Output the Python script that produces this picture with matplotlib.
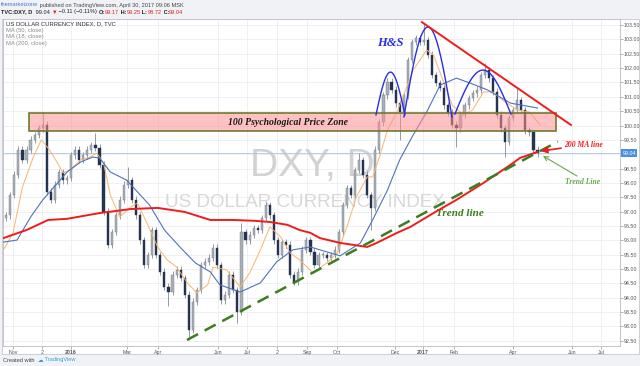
import numpy as np
import matplotlib
matplotlib.use('Agg')
import matplotlib.pyplot as plt
from matplotlib.patches import Rectangle
from matplotlib.transforms import blended_transform_factory

plt.rcParams['font.family'] = ['Liberation Sans', 'DejaVu Sans']

# every 3rd daily session, bar 0 = 2 Nov 2015
bar_idx = np.arange(-8, 389, 3)
closes = [96.78, 96.88, 97.58, 98.28, 99.15, 98.80, 99.15, 99.50, 99.67, 99.91,
          100.02, 97.70, 97.41, 97.93, 98.38, 98.10, 98.17, 98.97, 99.15, 98.80,
          98.97, 99.15, 99.32, 99.22, 98.63, 96.99, 95.84, 96.29, 96.88, 97.41,
          97.93, 98.10, 97.41, 96.88, 96.01, 95.14, 95.49, 96.36, 95.49, 94.90,
          94.38, 94.20, 94.80, 94.97, 94.69, 94.10, 92.88, 93.86, 94.27, 95.14,
          95.25, 95.39, 95.74, 95.14, 93.92, 94.10, 94.80, 94.27, 93.51, 96.29,
          96.01, 96.19, 96.43, 96.36, 96.78, 97.23, 96.88, 96.01, 95.49, 95.94,
          95.84, 94.80, 94.55, 94.90, 95.67, 96.01, 95.60, 95.14, 95.49, 95.49,
          95.39, 95.49, 95.67, 96.29, 97.23, 97.82, 97.58, 98.45, 98.80, 98.28,
          97.58, 97.13, 99.15, 100.12, 101.06, 101.52, 101.24, 100.78, 100.47, 101.06,
          102.28, 102.91, 103.05, 102.91, 102.98, 102.46, 101.76, 101.48, 101.31, 100.71,
          100.44, 100.02, 99.91, 100.37, 100.71, 100.96, 101.13, 101.24, 101.76, 101.93,
          101.65, 101.17, 100.37, 99.91, 99.43, 100.26, 100.54, 100.89, 100.54, 99.84,
          99.77, 99.15, 99.04]
first_open = 96.60
spike_highs = {10: 100.48, 23: 99.75, 31: 98.55, 59: 96.61, 88: 99.05,
               104: 103.57, 119: 102.18, 127: 101.30}
spike_lows = {0: 96.30, 41: 93.70, 46: 92.53, 58: 93.12, 91: 96.36,
              98: 99.50, 112: 99.25, 124: 98.90}

# moving averages (bar, value)
ma200_x = [-7, 10, 26, 40, 64, 87, 107, 127, 146, 163, 179, 190, 203, 212, 220,
           227, 242, 262, 269, 284, 294, 311, 328, 348, 368, 375, 388]
ma200_y = [96.08, 96.36, 96.71, 96.75, 96.95, 97.09, 97.13, 96.99, 96.71, 96.71,
           96.68, 96.64, 96.54, 96.36, 96.26, 96.08, 95.91, 95.77, 95.91, 96.26,
           96.47, 96.95, 97.41, 98.00, 98.63, 98.87, 99.08]
ma50_x = [-7, 3, 13, 22, 33, 40, 50, 59, 64, 72, 84, 101, 112, 124, 135, 146,
          153, 168, 183, 195, 207, 220, 227, 242, 257, 266, 277, 286, 296, 306,
          316, 328, 338, 351, 368, 388]
ma50_y = [95.94, 96.01, 96.81, 97.41, 98.00, 98.38, 98.73, 98.90, 98.87, 98.38,
          98.10, 97.23, 96.36, 95.74, 95.21, 94.90, 94.45, 94.20, 94.52, 95.25,
          95.67, 95.77, 95.67, 95.46, 95.91, 96.71, 97.75, 98.80, 99.67, 100.47,
          101.41, 101.65, 101.48, 101.24, 100.78, 100.61]
ma18_x = [-7, 0, 7, 15, 21, 27, 33, 37, 42, 50, 57, 62, 67, 72, 79, 87, 92, 99,
          107, 114, 121, 129, 136, 144, 148, 158, 168, 175, 183, 190, 198, 205,
          212, 222, 232, 240, 247, 254, 262, 266, 272, 277, 284, 289, 296, 306,
          311, 318, 325, 333, 340, 348, 355, 362, 373, 382, 390]
ma18_y = [95.67, 96.26, 97.86, 98.90, 99.50, 99.15, 98.69, 98.35, 98.45, 98.80,
          98.90, 99.04, 98.69, 97.58, 96.81, 97.16, 97.30, 96.61, 95.77, 95.32,
          95.07, 94.52, 94.17, 94.45, 95.07, 94.97, 94.38, 94.86, 95.67, 96.47,
          96.12, 95.56, 95.32, 94.86, 95.21, 95.56, 96.47, 97.51, 98.21, 98.21,
          99.04, 99.84, 100.47, 101.06, 101.93, 102.63, 102.46, 101.58, 100.71, 100.37,
          100.54, 101.17, 101.17, 100.89, 100.54, 100.47, 100.02]

date_ticks = [0, 21.4, 42.9, 84.3, 107.2, 151.6, 173.1, 195.3, 217.5, 239.6,
              282.5, 303.3, 326.2, 369.8, 413.5, 434.9]
date_labels = ['Nov', '2', '2016', 'Mar', 'Apr', 'Jun', 'Jul', '2', 'Sep', 'Oct',
               'Dec', '2017', 'Feb', 'Apr', 'Jun', 'Jul']
price_ticks = np.arange(92.5, 103.51, 0.5)
last_price = 99.04

# drawings on the chart
zone_x = (11.8, 401.6)
zone_y = (99.81, 100.45)
hs_arcs = [(268.5, 289.9, 100.37, 101.86),
           (289.2, 324.7, 100.30, 103.43),
           (326.9, 368.3, 100.40, 101.93)]
resist_x, resist_y = [302.5, 412.7], [103.60, 100.02]
trend_x, trend_y = [128.7, 403.0], [92.53, 99.44]

fig = plt.figure(figsize=(6.4, 3.66), dpi=100, facecolor='#f0f2f5')
fig.patches.append(Rectangle((2 / 640, 1 - 354 / 366), 637 / 640, 335 / 366,
                             transform=fig.transFigure, facecolor='white',
                             edgecolor='#c5c9cf', lw=0.6, zorder=-5))
ax = fig.add_axes([3 / 640, 20 / 366, 617 / 640, 327 / 366])
ax.set_zorder(2)
ax.set_facecolor('white')
ax.set_xlim(-7.4, 449)
ax.set_ylim(92.32, 103.71)

# grid
for t in date_ticks:
    ax.axvline(t, color='#eceef1', lw=0.6, zorder=0)
for p in price_ticks:
    ax.axhline(p, color='#eceef1', lw=0.6, zorder=0)

# watermark
ax.text(0.501, 0.55, 'DXY, D', transform=ax.transAxes, fontsize=28,
        color='#d2d2d2', ha='center', va='center', zorder=1)
ax.text(0.49, 0.44, 'US DOLLAR CURRENCY INDEX', transform=ax.transAxes,
        fontsize=13.5, color='#d8d8d8', ha='center', va='center', zorder=1)

# candles
c = np.array(closes)
o = np.concatenate([[first_open], c[:-1]])
hi = np.maximum(o, c) + 0.12
lo = np.minimum(o, c) - 0.12
for k, v in spike_highs.items():
    hi[k] = v
for k, v in spike_lows.items():
    lo[k] = v
up = c >= o
ax.vlines(bar_idx, lo, hi, color='#858b93', lw=0.6, zorder=2)
body = np.where(np.abs(c - o) < 0.03, 0.03, c - o)
ax.bar(bar_idx[up], body[up], bottom=o[up], width=1.6, color='#aab0b8',
       edgecolor='#737a83', lw=0.3, zorder=3)
ax.bar(bar_idx[~up], body[~up], bottom=o[~up], width=1.6, color='#253352',
       edgecolor='#253352', lw=0.3, zorder=3)

# last price line
ax.axhline(last_price, color='#a9c6ea', lw=0.6, zorder=1)

# moving averages
ax.plot(ma18_x, ma18_y, color='#f7b56e', lw=0.7, zorder=4)
ax.plot(ma50_x, ma50_y, color='#4f72c0', lw=0.8, zorder=4)
ax.plot(ma200_x, ma200_y, color='#f01c1c', lw=1.4, zorder=5)

# psychological zone
ax.add_patch(Rectangle((zone_x[0], zone_y[0]), zone_x[1] - zone_x[0],
                       zone_y[1] - zone_y[0], facecolor='#ff8f8f', alpha=0.55,
                       edgecolor='none', zorder=6))
ax.add_patch(Rectangle((zone_x[0], zone_y[0]), zone_x[1] - zone_x[0],
                       zone_y[1] - zone_y[0], facecolor='none',
                       edgecolor='#6e7b2e', lw=1.2, zorder=6))
ax.text(203.4, 100.12, '100 Psychological Price Zone', fontsize=7,
        family='Liberation Serif', style='italic', weight='bold',
        ha='center', va='center', color='#1a1a1a', zorder=7)

# head & shoulders arcs
for a, b, base, peak in hs_arcs:
    xs = np.linspace(a, b, 60)
    ax.plot(xs, base + (peak - base) * np.sin(np.pi * (xs - a) / (b - a)),
            color='#2a2ee6', lw=1.0, zorder=6)
ax.text(278.8, 102.87, 'H&S', fontsize=9, family='Liberation Serif',
        style='italic', weight='bold', color='#2a2ee6', ha='center', va='center')

# resistance and trend lines
ax.plot(resist_x, resist_y, color='#f01c1c', lw=1.4, zorder=6)
ax.plot(trend_x, trend_y, color='#3c7d1f', lw=1.8, dashes=(5, 3), zorder=6)
ax.text(330.6, 96.95, 'Trend line', fontsize=8, family='Liberation Serif',
        style='italic', weight='bold', color='#3c7d1f', ha='center', va='center')

ax.annotate('200 MA line', xy=(390.5, 99.11), xytext=(407.5, 99.32),
            fontsize=5.5, family='Liberation Serif', style='italic',
            weight='bold', color='#f01c1c', va='center', ha='left',
            arrowprops=dict(arrowstyle='-|>', color='#f01c1c', lw=1.2,
                            mutation_scale=9, shrinkA=0, shrinkB=0), zorder=8)
ax.annotate('', xy=(392, 98.94), xytext=(417.2, 98.24),
            arrowprops=dict(arrowstyle='->', color='#6aa84f', lw=0.8,
                            mutation_scale=8, shrinkA=0, shrinkB=0), zorder=8)
ax.text(421.6, 98.03, 'Trend Line', fontsize=5.5, family='Liberation Serif',
        style='italic', weight='bold', color='#6aa84f', ha='center', va='center')

# axes styling
ax.yaxis.tick_right()
ax.set_yticks(price_ticks)
ax.set_yticklabels(['' if abs(p - 99.0) < 1e-6 else '%.2f' % p for p in price_ticks])
ax.set_xticks(date_ticks)
ax.set_xticklabels(date_labels)
for lab, txt in zip(ax.get_xticklabels(), date_labels):
    if txt in ('2016', '2017'):
        lab.set_fontweight('bold')
ax.tick_params(axis='both', labelsize=3.8, colors='#777777', length=2,
               width=0.4, pad=0.8)
ax.tick_params(axis='x', labelcolor='#555555')
ax.tick_params(axis='y', labelcolor='#555555')
for s in ax.spines.values():
    s.set_color('#b9bdc3')
    s.set_linewidth(0.6)

tr = blended_transform_factory(ax.transAxes, ax.transData)
ax.text(1.004, last_price, '99.04', transform=tr, fontsize=3.8, color='white',
        va='center', ha='left', zorder=10, clip_on=False,
        bbox=dict(boxstyle='square,pad=0.25', facecolor='#4a8fe0', edgecolor='none'))

# legend block
leg = [('US DOLLAR CURRENCY INDEX, D, TVC', '#333333'), ('MA (50, close)', '#8a8a8a'),
       ('MA (18, close)', '#8a8a8a'), ('MA (200, close)', '#8a8a8a')]
for i, (txt, col) in enumerate(leg):
    ax.text(0.005, (346 - 24 - 6.4 * i) / 327, txt, transform=ax.transAxes,
            fontsize=4.2, color=col, va='center', ha='left')

# header and footer rows
renderer = fig.canvas.get_renderer()


def write_row(x_px, y_px, parts, size):
    x = x_px
    for txt, col, wt in parts:
        t = fig.text(x / 640, 1 - y_px / 366, txt, fontsize=size, color=col,
                     weight=wt, va='center', ha='left')
        x += t.get_window_extent(renderer).width


write_row(1, 5, [('themarketzone', '#3a7bd5', 'normal'),
                 (' published on TradingView.com, April 30, 2017 09:06 MSK', '#444444', 'normal')], 4.1)
write_row(1, 12, [('TVC:DXY, D ', '#222222', 'bold'), (' 99.04 ', '#222222', 'normal'),
                  ('▼', '#e02020', 'normal'), (' −0.11 (−0.11%) ', '#222222', 'normal'),
                  ('O:', '#222222', 'bold'), ('99.17', '#e02020', 'normal'),
                  (' H:', '#222222', 'bold'), ('99.25', '#e02020', 'normal'),
                  (' L:', '#222222', 'bold'), ('98.72', '#e02020', 'normal'),
                  (' C:', '#222222', 'bold'), ('99.04', '#e02020', 'normal')], 4.1)
write_row(3, 360, [('Created with  ', '#444444', 'normal'), ('☁', '#3a9be0', 'normal'),
                   (' TradingView', '#3a9be0', 'normal')], 4.1)

fig.savefig('out.png', dpi=100, facecolor=fig.get_facecolor())
